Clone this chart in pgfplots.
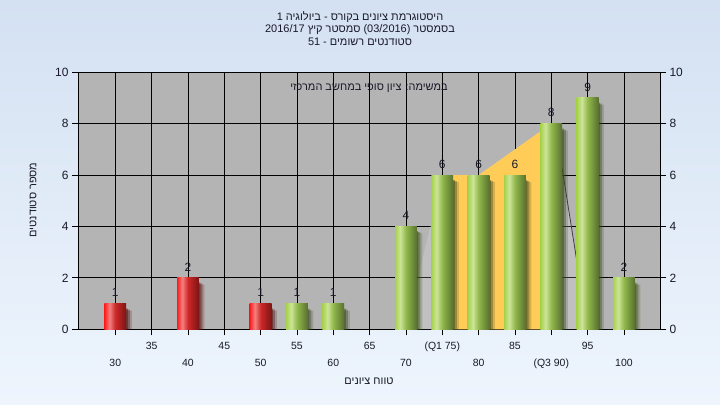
\documentclass[border=0pt]{standalone}
\usepackage{fontspec}
\setmainfont{Liberation Sans}
\newfontfamily\heb[Script=Hebrew]{Liberation Sans}
\usepackage{pgfplots}
\pgfplotsset{compat=1.18}
\usetikzlibrary{shadows}
\TeXXeTstate=1

\definecolor{bgtop}{RGB}{212,225,242}
\definecolor{bgbot}{RGB}{238,245,253}
\definecolor{plotbg}{RGB}{180,180,180}
\definecolor{orng}{RGB}{255,204,88}
\definecolor{txt}{RGB}{25,25,40}
\definecolor{rA}{RGB}{255,28,28}
\definecolor{rB}{RGB}{242,128,128}
\definecolor{rC}{RGB}{205,40,40}
\definecolor{rD}{RGB}{125,20,20}
\definecolor{gA}{RGB}{166,210,76}
\definecolor{gB}{RGB}{205,228,152}
\definecolor{gC}{RGB}{145,184,76}
\definecolor{gD}{RGB}{88,112,46}

\pgfdeclarehorizontalshading{redbar}{100bp}{color(0bp)=(rA); color(25bp)=(rA); color(37bp)=(rB); color(50bp)=(rC); color(75bp)=(rD); color(100bp)=(rD)}
\pgfdeclarehorizontalshading{greenbar}{100bp}{color(0bp)=(gA); color(25bp)=(gA); color(37bp)=(gB); color(50bp)=(gC); color(75bp)=(gD); color(100bp)=(gD)}

\tikzset{barshadow/.style={
  general shadow={shadow xshift=1.5bp, shadow yshift=-5bp, fill=black, opacity=0.28},
  general shadow={shadow xshift=3.5bp, shadow yshift=-6bp, fill=black, opacity=0.2},
  general shadow={shadow xshift=5.5bp, shadow yshift=-7bp, fill=black, opacity=0.1}}}
\pgfplotsset{
  redb/.style={ybar, bar width=3, bar shift=0pt, draw=none, barshadow, shade, shading=redbar, nodes near coords},
  grnb/.style={ybar, bar width=3, bar shift=0pt, draw=none, barshadow, shade, shading=greenbar, nodes near coords}}

\begin{document}
\begin{tikzpicture}
\shade[top color=bgtop, bottom color=bgbot] (0bp,0bp) rectangle (720bp,405bp);

\node[font=\heb\fontsize{11}{13}\selectfont, text=txt] at (360bp,388bp) {\beginR היסטוגרמת ציונים בקורס - ביולוגיה 1\endR};
\node[font=\heb\fontsize{11}{13}\selectfont, text=txt] at (360bp,375.5bp) {\beginR בסמסטר \beginL(03/2016)\endL{} סמסטר קיץ \beginL 2016/17\endL\endR};
\node[font=\heb\fontsize{11}{13}\selectfont, text=txt] at (360bp,363.5bp) {\beginR סטודנטים רשומים - \beginL 51\endL\endR};

\begin{axis}[at={(78bp,75.7bp)}, anchor=south west, scale only axis,
  width=582bp, height=257bp,
  xmin=24.87, xmax=104.96, ymin=0, ymax=10,
  axis background/.style={fill=plotbg},
  xtick={35,45,...,95}, xticklabels={35,45,55,65,(Q1 75),85,95},
  extra x ticks={30,40,...,100},
  extra x tick labels={30,40,50,60,70,80,(Q3 90),100},
  extra x tick style={grid=major, xticklabel style={yshift=-17bp}},
  xticklabel style={font=\fontsize{10.5}{12}\selectfont, text=txt, yshift=-3bp},
  ytick={0,2,...,10}, ytick pos=left, xtick pos=bottom,
  yticklabel style={font=\fontsize{12}{14}\selectfont, text=txt},
  /pgf/number format/assume math mode=true,
  grid=major, grid style={black, line width=0.8bp},
  tick align=outside, major tick length=6bp,
  tick style={black, line width=0.8bp},
  axis line style={black, line width=0.8bp},
  nodes near coords style={font=\fontsize{12}{14}\selectfont, text=txt, anchor=south, inner sep=0pt, yshift=6.5bp},
]
\addplot[fill=white, fill opacity=0.16, draw=none] coordinates {(70,0) (75,6) (80,6) (90,8) (91.5,6.25) (95,0)} \closedcycle;
\addplot[draw=black!75, line width=0.8bp] coordinates {(91.5,6.25) (95,0)};
\addplot[fill=orng, draw=none] coordinates {(75,0) (75,6) (80,6) (90,8) (90,0)} \closedcycle;

\addplot[redb] coordinates {(30,1)};
\addplot[redb] coordinates {(40,2)};
\addplot[redb] coordinates {(50,1)};
\addplot[grnb] coordinates {(55,1)};
\addplot[grnb] coordinates {(60,1)};
\addplot[grnb] coordinates {(70,4)};
\addplot[grnb] coordinates {(75,6)};
\addplot[grnb] coordinates {(80,6)};
\addplot[grnb] coordinates {(85,6)};
\addplot[grnb] coordinates {(90,8)};
\addplot[grnb] coordinates {(95,9)};
\addplot[grnb] coordinates {(100,2)};

\node[font=\heb\fontsize{11}{13}\selectfont, text=txt, inner sep=1bp] at (axis description cs:0.5,0.94) {\beginR במשימה: ציון סופי במחשב המרכזי\endR};
\end{axis}

\begin{axis}[at={(78bp,75.7bp)}, anchor=south west, scale only axis,
  width=582bp, height=257bp,
  xmin=24.87, xmax=104.96, ymin=0, ymax=10,
  hide x axis, axis y line*=right,
  ytick={0,2,...,10},
  yticklabel style={font=\fontsize{12}{14}\selectfont, text=txt},
  /pgf/number format/assume math mode=true,
  tick align=outside, major tick length=6bp,
  tick style={black, line width=0.8bp},
  axis line style={black, line width=0.8bp},
]
\end{axis}

\node[font=\heb\fontsize{11}{13}\selectfont, text=txt, rotate=90] at (33bp,205bp) {\beginR מספר סטודנטים\endR};
\node[font=\heb\fontsize{11}{13}\selectfont, text=txt] at (369bp,24bp) {\beginR טווח ציונים\endR};
\end{tikzpicture}
\end{document}
